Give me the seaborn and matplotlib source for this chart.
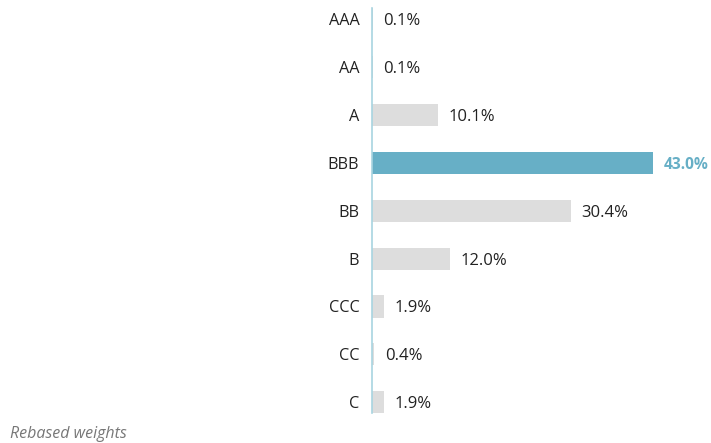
import pandas as pd
import matplotlib.pyplot as plt
import seaborn as sns

ratings = ['AAA', 'AA', 'A', 'BBB', 'BB', 'B', 'CCC', 'CC', 'C']
weights = [0.1, 0.1, 10.1, 43.0, 30.4, 12.0, 1.9, 0.4, 1.9]
highlight = 'BBB'

grey = '#dddddd'
blue = '#67afc6'

sns.set_style('white')
plt.rcParams['font.family'] = ['Open Sans', 'DejaVu Sans']

df = pd.DataFrame({'rating': ratings, 'weight': weights})
colors = [blue if r == highlight else grey for r in ratings]

fig = plt.figure(figsize=(7.11, 4.43), dpi=100)
ax = fig.add_axes([0.523, 0.068, 0.477, 0.914])

sns.barplot(data=df, x='weight', y='rating', hue='rating', palette=colors,
            order=ratings, legend=False, width=0.46, ax=ax, saturation=1,
            linewidth=0)

for i, (r, w) in enumerate(zip(ratings, weights)):
    hl = r == highlight
    ax.annotate(f'{w:.1f}%', xy=(w, i), xytext=(7.5, 0), textcoords='offset points',
                va='center_baseline', ha='left',
                fontsize=11.2 if hl else 12,
                color=blue if hl else '#222222',
                fontweight='bold' if hl else 'normal')

ax.set_xlim(0, 51.9)
ax.set_ylim(8.22, -0.23)
ax.set_xlabel('')
ax.set_ylabel('')
ax.set_xticks([])
ax.tick_params(axis='y', length=0, pad=9, labelsize=11.7, labelcolor='#222222')
for lbl in ax.get_yticklabels():
    lbl.set_verticalalignment('center_baseline')
for side in ['top', 'right', 'bottom']:
    ax.spines[side].set_visible(False)
ax.spines['left'].set_color('#a8d4e0')
ax.spines['left'].set_linewidth(1.2)

fig.text(10 / 711, 1 - 434 / 443, 'Rebased weights', fontsize=11.5, style='italic',
         color='#777777', va='center', ha='left')

fig.savefig('out.png', dpi=100)
